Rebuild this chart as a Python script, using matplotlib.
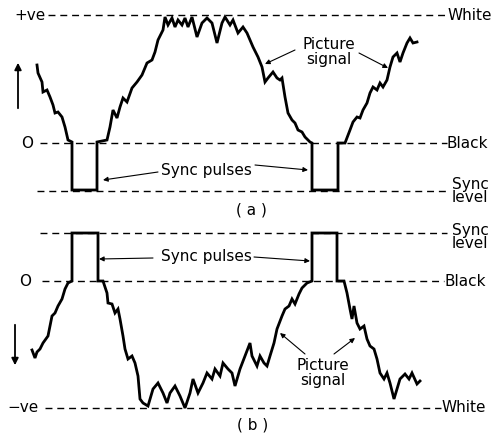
import matplotlib.pyplot as plt
import numpy as np

# waveform (a): time / level (picture units, y downward)
a_x = [37, 38, 42, 43, 47, 50, 53, 55, 58, 62, 65, 68, 72, 72, 97, 97, 107,
       110, 113, 117, 120, 123, 127, 132, 137, 142, 147, 152, 155, 158, 163,
       165, 168, 172, 175, 178, 182, 185, 188, 192, 197, 202, 207, 212, 217,
       222, 225, 230, 233, 238, 243, 247, 250, 253, 258, 262, 265, 268, 273,
       277, 280, 282, 285, 288, 292, 295, 298, 302, 305, 310, 312, 312, 338,
       338, 345, 350, 353, 357, 360, 363, 367, 370, 373, 377, 380, 383, 387,
       390, 393, 397, 400, 403, 407, 410, 413, 417]
a_y = [65, 73, 82, 92, 90, 97, 105, 113, 112, 117, 127, 140, 142, 190, 190, 142, 140,
       127, 110, 118, 107, 98, 102, 88, 82, 75, 63, 60, 52, 40, 30,
       17, 25, 18, 27, 20, 25, 18, 27, 17, 37, 23, 18, 23, 43,
       23, 17, 25, 20, 33, 27, 33, 40, 47, 57, 67, 82, 78, 72,
       78, 80, 78, 97, 113, 120, 123, 130, 132, 137, 142, 143, 190, 190,
       143, 143, 130, 122, 117, 118, 110, 103, 93, 87, 90, 83, 87, 80,
       67, 57, 53, 62, 53, 43, 38, 43, 42]

# waveform (b)
b_x = [32, 35, 37, 40, 43, 48, 52, 55, 58, 62, 65, 68, 72, 72, 98, 98, 103,
       107, 108, 112, 115, 118, 120, 123, 125, 128, 132, 135, 138, 140, 143, 148,
       153, 158, 163, 167, 170, 175, 180, 185, 190, 193, 198, 203, 207, 212, 215,
       220, 223, 228, 232, 235, 240, 245, 250, 252, 257, 260, 264, 267, 270, 274,
       277, 282, 285, 289, 292, 295, 299, 302, 307, 312, 312, 337, 337, 344,
       347, 350, 352, 354, 357, 360, 364, 367, 370, 374, 377, 380, 384, 387, 390,
       394, 397, 400, 405, 409, 412, 417, 420]
b_y = [350, 358, 352, 349, 343, 336, 316, 313, 306, 299, 289, 283, 281, 233, 233, 281, 281,
       293, 303, 304, 313, 309, 319, 336, 349, 359, 356, 363, 376, 399, 403, 406,
       389, 383, 393, 403, 393, 386, 396, 408, 393, 379, 393, 383, 373, 379, 369,
       376, 363, 369, 373, 386, 369, 356, 343, 356, 366, 356, 363, 366, 356, 343,
       329, 316, 309, 306, 299, 304, 294, 288, 283, 281, 233, 233, 281, 281,
       293, 309, 319, 306, 323, 329, 326, 339, 346, 349, 359, 373, 379, 373, 383,
       399, 389, 379, 374, 379, 373, 384, 381]

# reference levels: (y, x start, x end)
levels_a = {'white': (15, 48, 448), 'black': (143, 40, 447), 'sync': (191, 37, 447)}
levels_b = {'sync': (233, 40, 447), 'black': (281, 42, 444), 'white': (408, 45, 441)}

fig = plt.figure(figsize=(5.04, 4.33), dpi=100)
ax = fig.add_axes([0, 0, 1, 1])
ax.set_xlim(0, 504)
ax.set_ylim(433, 0)
ax.axis('off')

fs = 11
for lv in (levels_a, levels_b):
    for name, (y, x0, x1) in lv.items():
        ax.plot([x0, x1], [y, y], color='black', lw=1.0, ls=(0, (5, 3.5)))

ax.plot(a_x, a_y, color='black', lw=2.0, solid_joinstyle='miter')
ax.plot(b_x, b_y, color='black', lw=2.0, solid_joinstyle='miter')

# left labels
ax.text(14, 15, '+ve', fontsize=fs, va='center', ha='left')
ax.text(27, 143, 'O', fontsize=fs, va='center', ha='center')
ax.text(25, 281, 'O', fontsize=fs, va='center', ha='center')
ax.text(7, 408, '\u2212ve', fontsize=fs, va='center', ha='left')

# right labels
ax.text(447, 15, 'White', fontsize=fs, va='center', ha='left')
ax.text(447, 143, 'Black', fontsize=fs, va='center', ha='left')
ax.text(470, 191, 'Sync\nlevel', fontsize=fs, va='center', ha='center', linespacing=0.9)
ax.text(470, 237, 'Sync\nlevel', fontsize=fs, va='center', ha='center', linespacing=0.9)
ax.text(445, 282, 'Black', fontsize=fs, va='center', ha='left')
ax.text(441, 408, 'White', fontsize=fs, va='center', ha='left')

ax.text(251, 210, '( a )', fontsize=fs, va='center', ha='center')
ax.text(253, 425, '( b )', fontsize=fs, va='center', ha='center')

# direction arrows
arr = dict(arrowstyle='-|>', color='black', lw=1.3, mutation_scale=10)
ax.annotate('', xy=(18, 60), xytext=(18, 111), arrowprops=arr)
ax.annotate('', xy=(15, 368), xytext=(15, 322), arrowprops=arr)

# callouts
thin = dict(arrowstyle='-|>', color='black', lw=0.8, mutation_scale=7,
            shrinkA=0, shrinkB=0)
ax.text(206, 170, 'Sync pulses', fontsize=fs, va='center', ha='center')
ax.annotate('', xy=(103, 180), xytext=(158, 172), arrowprops=thin)
ax.annotate('', xy=(308, 170), xytext=(255, 165), arrowprops=thin)

ax.text(329, 52, 'Picture\nsignal', fontsize=fs, va='center', ha='center', linespacing=0.95)
ax.annotate('', xy=(265, 64), xytext=(295, 50), arrowprops=thin)
ax.annotate('', xy=(388, 68), xytext=(359, 53), arrowprops=thin)

ax.text(206, 257, 'Sync pulses', fontsize=fs, va='center', ha='center')
ax.annotate('', xy=(99, 259), xytext=(153, 258), arrowprops=thin)
ax.annotate('', xy=(310, 261), xytext=(254, 257), arrowprops=thin)

ax.text(323, 373, 'Picture\nsignal', fontsize=fs, va='center', ha='center', linespacing=0.95)
ax.annotate('', xy=(280, 333), xytext=(305, 354), arrowprops=thin)
ax.annotate('', xy=(355, 338), xytext=(334, 354), arrowprops=thin)

fig.savefig('out.png', dpi=100)
